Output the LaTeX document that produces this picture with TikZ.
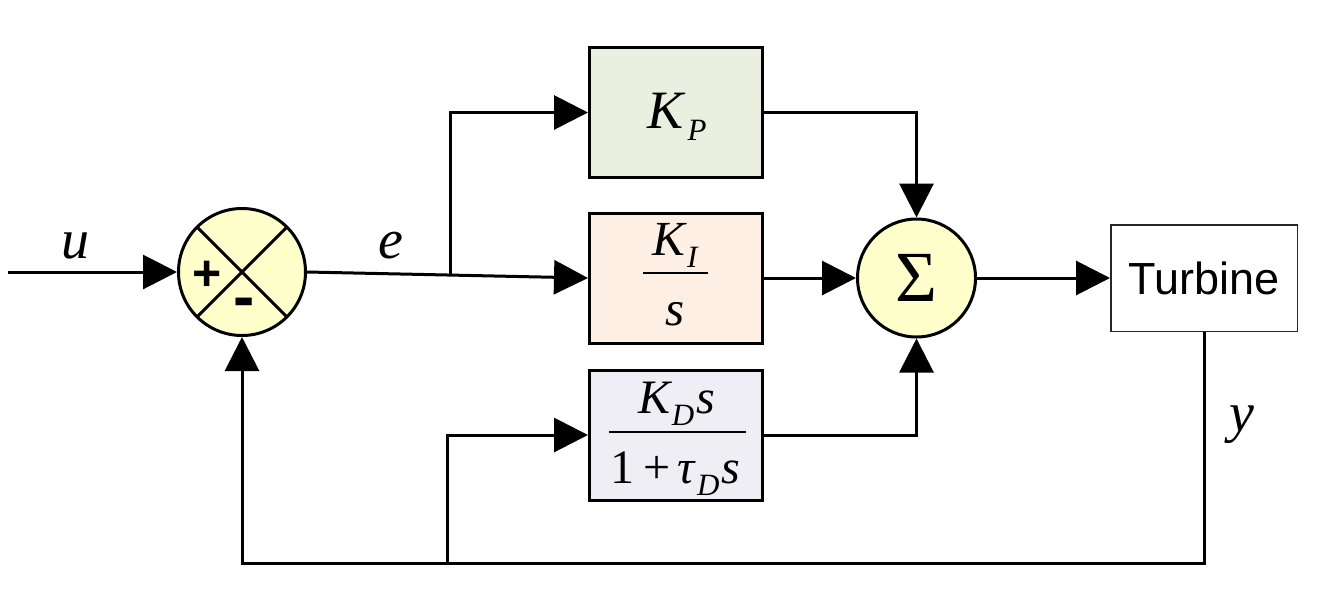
\documentclass[tikz,border=0pt]{standalone}
\usepackage{fontspec}
\setmainfont{Liberation Serif}
\newfontfamily\arialf{Liberation Sans}
\usetikzlibrary{arrows.meta,calc}
\definecolor{juncfill}{HTML}{FFFFCC}
\definecolor{kpfill}{HTML}{EBEFE0}
\definecolor{kifill}{HTML}{FDEFE4}
\definecolor{kdfill}{HTML}{F0EEF5}
\newcommand\setfs[1]{\fontsize{#1}{#1}\selectfont}
\newcommand\subsc[1]{\raisebox{-12pt}{\setfs{31}\itshape #1}}
\tikzset{
  wire/.style={line width=3pt},
  arr/.style={wire,-{Triangle[length=34pt,width=34pt]}},
  blk/.style={draw,line width=3pt,minimum width=173pt,minimum height=130pt,inner sep=0pt},
  junc/.style={circle,draw,line width=3pt,fill=juncfill,inner sep=0pt},
  lab/.style={inner sep=0pt,anchor=base},
  barline/.style={line width=2pt},
}
\begin{document}
\begin{tikzpicture}[x=1pt,y=-1pt]
\useasboundingbox (0,0) rectangle (1327,611);
% summing junction
\node[junc,minimum size=127pt,
  path picture={\draw[wire] (path picture bounding box.north west) -- (path picture bounding box.south east)
  (path picture bounding box.north east) -- (path picture bounding box.south west);}] (sum1) at (242,272) {};
\node[inner sep=0pt,font=\arialf\bfseries\setfs{50}] (plus) at (207,276) {+};
\node[inner sep=0pt,font=\arialf\bfseries\setfs{64}] (minus) at (244,308) {-};
% blocks
\node[blk,fill=kpfill] (kp) at (676,112.5) {};
\node[blk,fill=kifill] (ki) at (676,278) {};
\node[blk,fill=kdfill] (kd) at (676,435) {};
\node[lab] (kptxt) at (677,128) {\setfs{54}\itshape K\hspace{4pt}\subsc{P}};
\node[lab] (kinum) at (675,255) {\setfs{49}\itshape K\hspace{2pt}\subsc{I}};
\draw[barline] (643,273) -- (708,273);
\node[lab] (kiden) at (675,325) {\setfs{49}\itshape s};
\node[lab] (kdnum) at (677,413) {\setfs{48}\itshape K\hspace{1pt}\subsc{D}\hspace{2pt}s};
\draw[barline] (609,432) -- (746,432);
\node[lab] (kdden) at (675.5,483) {\setfs{48}1\hspace{9pt}+\hspace{7pt}\itshape τ\hspace{2pt}\subsc{D}\hspace{2pt}s};
% sigma
\node[junc,minimum size=118pt,font=\setfs{72}] (sig) at (916.5,278) {Σ};
% turbine
\node[draw=black!85,line width=1.5pt,minimum width=186.5pt,minimum height=106.5pt,inner sep=0pt,
  font=\arialf\setfs{45}] (turb) at (1204,278) {Turbine};
% labels
\node[lab] (ulab) at (75.5,258) {\setfs{56}\itshape u};
\node[lab] (elab) at (391,258) {\setfs{56}\itshape e};
\node[lab] (ylab) at (1242,431) {\setfs{56}\itshape y};
% connectors
\coordinate (in) at (8,272);
\draw[arr] (in) -- (sum1.west);
\draw[arr] (sum1.east) -- (ki.west);
\coordinate (b1) at ($(sum1.east)!0.51!(ki.west)$);
\draw[arr] (b1) |- (kp.west);
\draw[arr] (kp.east) -| (sig.north);
\draw[arr] (ki.east) -- (sig.west);
\draw[arr] (kd.east) -| (sig.south);
\draw[arr] (sig.east) -- (turb.west);
\coordinate (fb) at (1204,563);
\coordinate (b2) at (447,563);
\draw[arr] (turb.south) -- (fb) -| (sum1.south);
\draw[arr] (b2) |- (kd.west);
\end{tikzpicture}
\end{document}
